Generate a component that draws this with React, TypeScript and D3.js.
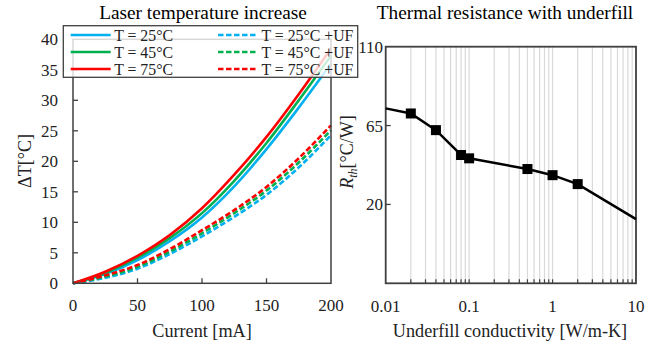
import React from "react";
import * as d3 from "d3";

const currents = [0, 25, 50, 75, 100, 125, 150, 175, 200];
const t25 = [0, 1.5, 3.8, 6.9, 10.8, 15.9, 22.0, 28.8, 36.0];
const t45 = [0, 1.7, 4.2, 7.4, 11.5, 16.8, 23.0, 30.0, 37.3];
const t75 = [0, 1.9, 4.5, 7.9, 12.3, 17.8, 24.0, 31.0, 38.5];
const t25uf = [0, 0.9, 2.4, 4.8, 7.7, 10.9, 14.5, 19.0, 24.3];
const t45uf = [0, 1.1, 2.7, 5.2, 8.2, 11.5, 15.2, 19.8, 25.1];
const t75uf = [0, 1.3, 3.0, 5.6, 8.7, 12.0, 15.8, 20.5, 25.9];
const seriesNames = ["T = 25°C", "T = 45°C", "T = 75°C", "T = 25°C +UF", "T = 45°C +UF", "T = 75°C +UF"];
const leftYTicks = [0, 5, 10, 15, 20, 25, 30, 35, 40];
const leftXTicks = [0, 50, 100, 150, 200];

const conductivity = [0.01, 0.02, 0.04, 0.08, 0.1, 0.5, 1, 2, 10];
const rth = [74.8, 71.9, 62.4, 48.2, 46.3, 40.2, 36.7, 31.6, 11.6];
const rightYTicks = [20, 65, 110];
const rightXTicks = [0.01, 0.1, 1, 10];

const FONT = "Liberation Serif, DejaVu Serif, serif";
const colors = ["#00B0F0", "#00B050", "#FF0000"];

export default function App() {
  const lx = d3.scaleLinear().domain([0, 200]).range([73, 331]);
  const ly = d3.scaleLinear().domain([0, 40]).range([283.3, 39.3]);
  const lline = d3
    .line<[number, number]>()
    .x((d) => lx(d[0]))
    .y((d) => ly(d[1]))
    .curve(d3.curveMonotoneX);
  const series = [t25, t45, t75, t25uf, t45uf, t75uf].map((vals, i) => ({
    name: seriesNames[i],
    color: colors[i % 3],
    dashed: i >= 3,
    d: lline(currents.map((c, j) => [c, vals[j]] as [number, number])) || "",
  }));

  const rx = d3.scaleLog().domain([0.01, 10]).range([385.7, 636]);
  const ry = d3.scaleLinear().domain([-25, 110]).range([283.3, 46.7]);
  const rline = d3
    .line<[number, number]>()
    .x((d) => rx(d[0]))
    .y((d) => ry(d[1]));
  const rpts = conductivity.map((c, i) => [c, rth[i]] as [number, number]);
  const gridVals: number[] = [];
  [0.01, 0.1, 1].forEach((dec) => {
    for (let k = 1; k <= 9; k++) {
      const v = dec * k;
      if (v > 0.0100001) gridVals.push(v);
    }
  });

  const axisColor = "#404040";
  const txt = { fontFamily: FONT };

  return (
    <div style={{ position: "absolute", left: 0, top: 0 }}>
      <svg width={664} height={347} style={{ display: "block", background: "#fff", fontFamily: FONT }}>
        {/* LEFT CHART */}
        <text x={203} y={19} fontSize={19.3} textAnchor="middle" fill="#000" style={txt}>
          Laser temperature increase
        </text>
        {series.map((s) => (
          <path
            key={s.name}
            d={s.d}
            fill="none"
            stroke={s.color}
            strokeWidth={2.6}
            strokeDasharray={s.dashed ? "5.5,2.5" : undefined}
          />
        ))}
        <rect x={lx(0)} y={ly(40)} width={lx(200) - lx(0)} height={ly(0) - ly(40)} fill="none" stroke={axisColor} strokeWidth={1.5} />
        {leftYTicks.map((t) => (
          <g key={"ly" + t}>
            {t > 0 && t < 40 && <line x1={lx(0)} x2={lx(0) + 5} y1={ly(t)} y2={ly(t)} stroke={axisColor} strokeWidth={1.3} />}
            <text x={58} y={ly(t) + 6} fontSize={17} textAnchor="end" fill="#222" style={txt}>
              {t}
            </text>
          </g>
        ))}
        {leftXTicks.map((t) => (
          <g key={"lx" + t}>
            {t > 0 && t < 200 && <line x1={lx(t)} x2={lx(t)} y1={ly(0)} y2={ly(0) - 5} stroke={axisColor} strokeWidth={1.3} />}
            <text x={lx(t)} y={311} fontSize={17} textAnchor="middle" fill="#222" style={txt}>
              {t}
            </text>
          </g>
        ))}
        <text x={202} y={337} fontSize={18.2} textAnchor="middle" fill="#222" style={txt}>
          Current [mA]
        </text>
        <text transform="translate(31,161) rotate(-90)" fontSize={18} textAnchor="middle" fill="#222" style={txt}>
          ΔT[°C]
        </text>
        <rect x={63.3} y={25.7} width={294.4} height={51.6} fill="#fff" fillOpacity={0.8} stroke={axisColor} strokeWidth={1.3} />
        {series.map((s, i) => {
          const col = i < 3 ? 0 : 1;
          const row = i % 3;
          const x0 = col === 0 ? 70.7 : 218;
          const yy = 35 + row * 17;
          return (
            <g key={"lg" + s.name}>
              <line x1={x0} x2={x0 + 40} y1={yy} y2={yy} stroke={s.color} strokeWidth={2.6} strokeDasharray={s.dashed ? "5.5,2.5" : undefined} />
              <text x={x0 + 43.5} y={yy + 5.5} fontSize={15.8} fill="#222" style={txt}>
                {s.name}
              </text>
            </g>
          );
        })}

        {/* RIGHT CHART */}
        <text x={505} y={19} fontSize={19.3} textAnchor="middle" fill="#000" style={txt}>
          Thermal resistance with underfill
        </text>
        {gridVals.map((v) => (
          <line key={"g" + v} x1={rx(v)} x2={rx(v)} y1={ry(-25)} y2={ry(110)} stroke="#d9d9d9" strokeWidth={1.2} />
        ))}
        {gridVals.map((v) => (
          <line key={"t" + v} x1={rx(v)} x2={rx(v)} y1={ry(-25)} y2={ry(-25) - 4} stroke={axisColor} strokeWidth={1.2} />
        ))}
        <rect x={rx(0.01)} y={ry(110)} width={rx(10) - rx(0.01)} height={ry(-25) - ry(110)} fill="none" stroke={axisColor} strokeWidth={1.8} />
        {rightYTicks.map((t) => (
          <g key={"ry" + t}>
            {t < 110 && <line x1={rx(0.01)} x2={rx(0.01) + 5} y1={ry(t)} y2={ry(t)} stroke={axisColor} strokeWidth={1.3} />}
            <text x={383} y={ry(t) + 6} fontSize={17} textAnchor="end" fill="#222" style={txt}>
              {t}
            </text>
          </g>
        ))}
        {rightXTicks.map((t) => (
          <text key={"rx" + t} x={rx(t)} y={312} fontSize={17} textAnchor="middle" fill="#222" style={txt}>
            {t}
          </text>
        ))}
        <path d={rline(rpts) || ""} fill="none" stroke="#000" strokeWidth={2.5} />
        {rpts
          .filter((p) => p[0] > 0.01 && p[0] < 10)
          .map((p) => (
            <rect key={"m" + p[0]} x={rx(p[0]) - 5} y={ry(p[1]) - 5} width={10} height={10} fill="#000" />
          ))}
        <text x={510} y={337} fontSize={18.2} textAnchor="middle" fill="#222" style={txt}>
          Underfill conductivity [W/m-K]
        </text>
        <text transform="translate(353,152) rotate(-90)" fontSize={18} textAnchor="middle" fill="#222" style={txt}>
          <tspan fontStyle="italic">R</tspan>
          <tspan fontStyle="italic" fontSize={12} dy={4}>th</tspan>
          <tspan dy={-4}>[°C/W]</tspan>
        </text>
      </svg>
    </div>
  );
}
